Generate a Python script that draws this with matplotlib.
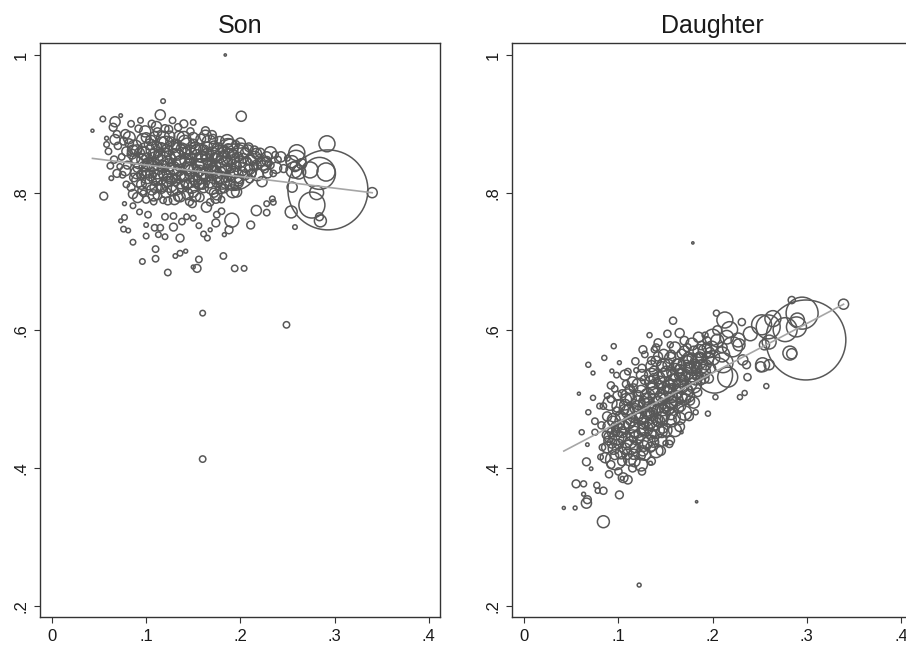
"""
Son / daughter weighted scatter with linear fit, Stata-like look.
"""

import matplotlib
matplotlib.use('Agg')
import matplotlib.pyplot as plt
import numpy as np

plt.rcParams['font.family'] = ['Liberation Sans', 'DejaVu Sans']

# (x, y, weight)
son_core = [
    (0.065, 0.895, 6), (0.078, 0.885, 8), (0.092, 0.893, 5), (0.100, 0.880, 9),
    (0.112, 0.888, 7), (0.124, 0.892, 6), (0.135, 0.882, 10), (0.147, 0.889, 5),
    (0.158, 0.878, 9), (0.170, 0.884, 7), (0.178, 0.875, 8),
    (0.070, 0.868, 5), (0.082, 0.872, 7), (0.090, 0.862, 10), (0.104, 0.870, 12),
    (0.116, 0.866, 8), (0.126, 0.874, 9), (0.138, 0.864, 12), (0.150, 0.871, 8),
    (0.161, 0.862, 10), (0.172, 0.868, 9), (0.183, 0.860, 12), (0.195, 0.870, 6),
    (0.074, 0.852, 4), (0.085, 0.856, 9), (0.096, 0.848, 12), (0.108, 0.857, 10),
    (0.119, 0.850, 14), (0.131, 0.856, 11), (0.142, 0.847, 13), (0.154, 0.855, 10),
    (0.165, 0.849, 12), (0.176, 0.853, 9), (0.186, 0.846, 11), (0.198, 0.852, 8),
    (0.207, 0.846, 6), (0.220, 0.850, 5),
    (0.080, 0.840, 6), (0.091, 0.836, 8), (0.102, 0.842, 13), (0.113, 0.834, 11),
    (0.124, 0.840, 15), (0.135, 0.833, 12), (0.146, 0.840, 14), (0.157, 0.832, 11),
    (0.168, 0.838, 13), (0.179, 0.830, 10), (0.190, 0.836, 9), (0.202, 0.831, 8),
    (0.214, 0.838, 6), (0.226, 0.834, 5),
    (0.075, 0.826, 4), (0.087, 0.822, 7), (0.098, 0.828, 10), (0.109, 0.820, 12),
    (0.120, 0.826, 14), (0.131, 0.818, 11), (0.142, 0.825, 13), (0.153, 0.817, 12),
    (0.164, 0.823, 10), (0.175, 0.815, 9), (0.186, 0.822, 8), (0.198, 0.816, 7),
    (0.210, 0.820, 6),
    (0.084, 0.808, 6), (0.095, 0.812, 9), (0.106, 0.804, 10), (0.117, 0.810, 12),
    (0.128, 0.803, 11), (0.139, 0.809, 12), (0.150, 0.801, 10), (0.161, 0.807, 9),
    (0.172, 0.800, 8), (0.183, 0.806, 7), (0.194, 0.810, 6),
    (0.100, 0.790, 5), (0.112, 0.796, 7), (0.123, 0.788, 6), (0.134, 0.794, 8),
    (0.146, 0.787, 6), (0.157, 0.793, 7), (0.168, 0.786, 5), (0.180, 0.790, 4),
    (0.060, 0.860, 4), (0.066, 0.848, 5), (0.072, 0.838, 3), (0.058, 0.870, 3),
    (0.084, 0.900, 4), (0.094, 0.905, 3), (0.106, 0.900, 5), (0.128, 0.905, 4),
    (0.140, 0.900, 6), (0.150, 0.902, 3),
    (0.215, 0.862, 6), (0.222, 0.845, 7), (0.232, 0.840, 5), (0.240, 0.848, 4),
    (0.246, 0.835, 6), (0.250, 0.850, 3), (0.205, 0.858, 8), (0.212, 0.828, 7),
    (0.120, 0.850, 39), (0.160, 0.835, 39), (0.100, 0.860, 30), (0.145, 0.820, 30),
]

son_dense = [
    (0.088, 0.866, 20), (0.097, 0.876, 18), (0.109, 0.862, 28), (0.121, 0.871, 22),
    (0.133, 0.860, 30), (0.144, 0.868, 24), (0.156, 0.858, 32), (0.167, 0.873, 20),
    (0.178, 0.856, 28), (0.190, 0.852, 26), (0.201, 0.861, 22),
    (0.093, 0.846, 24), (0.104, 0.834, 30), (0.115, 0.843, 26), (0.127, 0.829, 34),
    (0.138, 0.842, 28), (0.150, 0.829, 30), (0.161, 0.846, 26), (0.172, 0.826, 28),
    (0.183, 0.840, 24), (0.195, 0.825, 22), (0.206, 0.840, 20),
    (0.092, 0.818, 18), (0.103, 0.815, 22), (0.114, 0.823, 26), (0.125, 0.812, 24),
    (0.137, 0.818, 28), (0.148, 0.810, 22), (0.159, 0.818, 26), (0.170, 0.808, 20),
    (0.181, 0.815, 18), (0.192, 0.802, 16),
    (0.082, 0.880, 14), (0.099, 0.889, 12), (0.118, 0.880, 16), (0.140, 0.879, 18),
    (0.163, 0.882, 14), (0.186, 0.875, 16),
    (0.215, 0.850, 18), (0.225, 0.842, 16), (0.218, 0.826, 14), (0.238, 0.836, 12),
    (0.243, 0.852, 10), (0.232, 0.858, 14),
    (0.078, 0.832, 10), (0.086, 0.798, 8), (0.108, 0.796, 12), (0.130, 0.790, 10),
    (0.152, 0.795, 12), (0.175, 0.797, 10),
]

son_extra = [
    (0.086, 0.861, 12), (0.098, 0.857, 16), (0.110, 0.849, 20), (0.122, 0.861, 14),
    (0.134, 0.851, 22), (0.146, 0.859, 18), (0.158, 0.846, 20), (0.170, 0.857, 16),
    (0.182, 0.851, 18), (0.194, 0.843, 14),
    (0.090, 0.829, 14), (0.101, 0.823, 18), (0.112, 0.831, 22), (0.123, 0.818, 16),
    (0.135, 0.828, 20), (0.147, 0.834, 18), (0.158, 0.824, 22), (0.169, 0.831, 16),
    (0.180, 0.822, 14), (0.192, 0.830, 12),
    (0.105, 0.876, 10), (0.117, 0.872, 14), (0.129, 0.866, 12), (0.141, 0.874, 16),
    (0.152, 0.865, 12), (0.164, 0.855, 14), (0.176, 0.864, 12), (0.187, 0.857, 10),
    (0.110, 0.808, 12), (0.121, 0.800, 10), (0.133, 0.806, 14), (0.144, 0.798, 12),
    (0.156, 0.812, 10), (0.167, 0.815, 12), (0.179, 0.806, 10), (0.189, 0.812, 8),
    (0.096, 0.803, 8), (0.088, 0.850, 10), (0.079, 0.860, 8), (0.076, 0.875, 6),
    (0.069, 0.885, 5), (0.125, 0.882, 10), (0.150, 0.880, 10), (0.171, 0.878, 8),
    (0.200, 0.845, 12), (0.210, 0.834, 10), (0.221, 0.858, 8), (0.229, 0.828, 8),
]

son_fill = [
    (0.093, 0.858, 9), (0.101, 0.850, 11), (0.107, 0.839, 13), (0.111, 0.868, 9),
    (0.114, 0.855, 12), (0.118, 0.838, 14), (0.122, 0.816, 10), (0.126, 0.848, 12),
    (0.129, 0.836, 15), (0.132, 0.870, 10), (0.136, 0.845, 13), (0.139, 0.824, 12),
    (0.141, 0.857, 11), (0.144, 0.836, 14), (0.148, 0.848, 12), (0.151, 0.820, 13),
    (0.153, 0.862, 10), (0.155, 0.840, 15), (0.159, 0.852, 12), (0.162, 0.828, 13),
    (0.165, 0.866, 10), (0.167, 0.843, 14), (0.171, 0.834, 12), (0.173, 0.850, 11),
    (0.177, 0.821, 12), (0.180, 0.845, 13), (0.184, 0.832, 11), (0.187, 0.864, 9),
    (0.189, 0.825, 10), (0.192, 0.855, 10), (0.196, 0.838, 9), (0.199, 0.820, 8),
    (0.105, 0.825, 11), (0.098, 0.838, 10), (0.095, 0.826, 9), (0.116, 0.806, 9),
    (0.127, 0.820, 11), (0.143, 0.812, 10), (0.160, 0.812, 9), (0.174, 0.838, 10),
    (0.203, 0.850, 9), (0.209, 0.866, 7), (0.217, 0.840, 9), (0.228, 0.846, 8),
    (0.120, 0.893, 6), (0.134, 0.895, 5), (0.163, 0.890, 6), (0.109, 0.882, 8),
]

son_outer = [
    (0.184, 1.000, 0.5), (0.118, 0.933, 2), (0.201, 0.911, 10), (0.043, 0.890, 0.9),
    (0.054, 0.907, 3), (0.073, 0.912, 1.2), (0.067, 0.903, 10), (0.115, 0.913, 10),
    (0.111, 0.896, 10), (0.058, 0.879, 1.5), (0.067, 0.877, 10), (0.055, 0.795, 6),
    (0.062, 0.839, 4), (0.063, 0.821, 2), (0.069, 0.828, 6), (0.079, 0.812, 4),
    (0.077, 0.784, 1.5), (0.086, 0.781, 3), (0.093, 0.772, 3), (0.077, 0.764, 3),
    (0.073, 0.759, 1.5), (0.076, 0.747, 3), (0.081, 0.745, 2), (0.086, 0.728, 3),
    (0.100, 0.737, 3), (0.100, 0.753, 2), (0.102, 0.768, 4), (0.109, 0.749, 4),
    (0.115, 0.749, 4), (0.113, 0.739, 3), (0.120, 0.736, 3), (0.110, 0.718, 4),
    (0.110, 0.704, 4), (0.096, 0.700, 3), (0.123, 0.684, 4), (0.131, 0.708, 2),
    (0.136, 0.712, 3), (0.142, 0.715, 1.5), (0.136, 0.734, 6), (0.129, 0.750, 6),
    (0.120, 0.765, 4), (0.129, 0.766, 4), (0.138, 0.758, 4), (0.143, 0.765, 3),
    (0.150, 0.763, 3), (0.156, 0.752, 3), (0.156, 0.703, 4), (0.154, 0.690, 6),
    (0.150, 0.692, 1.5), (0.161, 0.740, 3), (0.165, 0.734, 3), (0.168, 0.746, 1.5),
    (0.174, 0.756, 6), (0.175, 0.768, 4), (0.180, 0.773, 4), (0.183, 0.739, 1.5),
    (0.182, 0.708, 4), (0.188, 0.746, 6), (0.191, 0.760, 19), (0.194, 0.690, 4),
    (0.204, 0.690, 3), (0.211, 0.753, 6), (0.217, 0.774, 10), (0.228, 0.771, 4),
    (0.235, 0.786, 3), (0.254, 0.772, 14), (0.258, 0.750, 2), (0.160, 0.625, 3),
    (0.249, 0.608, 4), (0.160, 0.413, 4), (0.164, 0.779, 10), (0.136, 0.794, 10),
    (0.118, 0.789, 4), (0.108, 0.787, 4), (0.091, 0.793, 10), (0.097, 0.799, 4),
    (0.149, 0.784, 6), (0.174, 0.792, 10), (0.196, 0.801, 10), (0.196, 0.816, 19),
    (0.223, 0.816, 10), (0.230, 0.843, 4), (0.237, 0.855, 4), (0.228, 0.852, 10),
    (0.217, 0.857, 10), (0.208, 0.862, 10), (0.200, 0.872, 10), (0.189, 0.866, 25),
    (0.235, 0.828, 4), (0.211, 0.847, 10), (0.205, 0.826, 10), (0.258, 0.838, 10),
    (0.262, 0.830, 19), (0.255, 0.845, 14), (0.265, 0.842, 10), (0.260, 0.858, 25),
    (0.193, 0.837, 210), (0.187, 0.864, 39),
    (0.293, 0.804, 625), (0.284, 0.828, 100), (0.292, 0.871, 25), (0.276, 0.782, 66),
    (0.281, 0.800, 19), (0.285, 0.759, 14), (0.284, 0.765, 6), (0.291, 0.830, 32),
    (0.340, 0.800, 10), (0.259, 0.847, 39), (0.257, 0.833, 25), (0.274, 0.833, 25),
    (0.255, 0.808, 10), (0.228, 0.784, 3), (0.234, 0.791, 3),
]

dau_core = [
    (0.083, 0.430, 4), (0.087, 0.448, 6), (0.082, 0.462, 5), (0.088, 0.475, 8), (0.084, 0.490, 4),
    (0.096, 0.418, 6), (0.093, 0.436, 9), (0.097, 0.452, 7), (0.094, 0.468, 10),
    (0.098, 0.483, 6), (0.092, 0.500, 5), (0.096, 0.515, 4),
    (0.104, 0.410, 8), (0.107, 0.428, 12), (0.103, 0.445, 10), (0.106, 0.460, 13),
    (0.102, 0.476, 9), (0.107, 0.492, 11), (0.104, 0.508, 6), (0.108, 0.522, 5),
    (0.116, 0.420, 10), (0.113, 0.437, 13), (0.117, 0.453, 11), (0.114, 0.470, 14),
    (0.118, 0.486, 10), (0.113, 0.500, 12), (0.116, 0.516, 7),
    (0.124, 0.418, 7), (0.127, 0.432, 11), (0.123, 0.449, 14), (0.126, 0.465, 12),
    (0.122, 0.481, 15), (0.127, 0.496, 11), (0.124, 0.512, 12), (0.128, 0.528, 8),
    (0.125, 0.545, 6),
    (0.134, 0.430, 9), (0.137, 0.446, 12), (0.133, 0.462, 10), (0.136, 0.478, 14),
    (0.132, 0.494, 13), (0.137, 0.510, 11), (0.134, 0.525, 13), (0.138, 0.541, 9),
    (0.135, 0.556, 6),
    (0.146, 0.452, 11), (0.143, 0.468, 13), (0.147, 0.484, 12), (0.144, 0.500, 15),
    (0.148, 0.516, 12), (0.143, 0.531, 14), (0.146, 0.547, 10), (0.142, 0.562, 8),
    (0.156, 0.470, 10), (0.153, 0.486, 13), (0.157, 0.503, 12), (0.154, 0.519, 15),
    (0.158, 0.535, 12), (0.153, 0.550, 11), (0.156, 0.565, 7),
    (0.164, 0.487, 9), (0.167, 0.503, 12), (0.163, 0.519, 11), (0.166, 0.535, 14),
    (0.162, 0.551, 10), (0.167, 0.566, 8),
    (0.176, 0.498, 8), (0.173, 0.514, 11), (0.177, 0.530, 13), (0.174, 0.546, 10),
    (0.178, 0.560, 9), (0.173, 0.575, 6),
    (0.184, 0.510, 7), (0.187, 0.528, 10), (0.183, 0.545, 12), (0.186, 0.562, 8),
    (0.188, 0.578, 7),
    (0.196, 0.530, 8), (0.193, 0.550, 10), (0.197, 0.568, 9), (0.194, 0.585, 6),
    (0.075, 0.468, 4), (0.080, 0.490, 3), (0.088, 0.505, 3), (0.092, 0.520, 5),
    (0.098, 0.535, 3), (0.110, 0.540, 4), (0.118, 0.555, 5), (0.128, 0.565, 4),
    (0.140, 0.575, 5), (0.115, 0.400, 6), (0.125, 0.395, 5), (0.135, 0.410, 6),
    (0.145, 0.425, 8), (0.155, 0.440, 7), (0.165, 0.460, 9), (0.175, 0.475, 7),
    (0.100, 0.395, 5), (0.092, 0.405, 6), (0.110, 0.383, 7),
    (0.097, 0.412, 39), (0.134, 0.436, 25), (0.155, 0.474, 39), (0.171, 0.542, 39),
    (0.091, 0.494, 19),
]

dau_dense = [
    (0.098, 0.444, 20), (0.105, 0.468, 26), (0.112, 0.430, 22), (0.118, 0.478, 28),
    (0.120, 0.457, 30), (0.128, 0.440, 24), (0.130, 0.488, 30), (0.132, 0.470, 32),
    (0.140, 0.455, 26), (0.141, 0.503, 30), (0.145, 0.480, 34), (0.150, 0.520, 28),
    (0.152, 0.496, 32), (0.158, 0.510, 30), (0.160, 0.540, 26), (0.163, 0.525, 32),
    (0.170, 0.510, 28), (0.172, 0.552, 24), (0.178, 0.538, 30), (0.180, 0.520, 22),
    (0.185, 0.555, 24), (0.190, 0.540, 20), (0.192, 0.570, 18), (0.200, 0.560, 20),
    (0.110, 0.505, 18), (0.122, 0.520, 20), (0.100, 0.490, 16), (0.135, 0.535, 18),
    (0.148, 0.550, 16), (0.112, 0.412, 14), (0.124, 0.405, 16), (0.140, 0.425, 18),
    (0.160, 0.455, 16), (0.170, 0.480, 20), (0.090, 0.460, 14), (0.088, 0.430, 12),
    (0.095, 0.470, 16), (0.205, 0.585, 16), (0.210, 0.565, 22), (0.215, 0.590, 18),
    (0.178, 0.580, 14), (0.160, 0.575, 12), (0.148, 0.565, 10), (0.135, 0.548, 12),
]

dau_extra = [
    (0.095, 0.428, 12), (0.101, 0.455, 16), (0.108, 0.440, 20), (0.110, 0.482, 16),
    (0.114, 0.462, 22), (0.119, 0.444, 18), (0.121, 0.495, 18), (0.126, 0.475, 22),
    (0.129, 0.457, 20), (0.131, 0.505, 20), (0.133, 0.485, 24), (0.138, 0.465, 18),
    (0.139, 0.518, 22), (0.142, 0.492, 24), (0.146, 0.472, 16), (0.149, 0.535, 18),
    (0.151, 0.508, 24), (0.155, 0.490, 20), (0.158, 0.525, 22), (0.161, 0.500, 18),
    (0.164, 0.548, 20), (0.167, 0.520, 22), (0.169, 0.535, 18), (0.174, 0.505, 16),
    (0.176, 0.555, 18), (0.179, 0.545, 20), (0.182, 0.530, 16), (0.186, 0.570, 16),
    (0.189, 0.548, 18), (0.195, 0.560, 14), (0.199, 0.575, 16), (0.103, 0.422, 14),
    (0.117, 0.410, 12), (0.128, 0.420, 14), (0.145, 0.440, 14), (0.150, 0.455, 16),
    (0.165, 0.472, 14), (0.180, 0.495, 12), (0.108, 0.500, 12), (0.115, 0.525, 10),
    (0.125, 0.535, 12), (0.140, 0.555, 10), (0.155, 0.560, 12), (0.170, 0.570, 10),
    (0.185, 0.590, 10), (0.098, 0.460, 12), (0.090, 0.445, 10), (0.086, 0.415, 10),
    (0.099, 0.505, 8),
]

dau_fill = [
    (0.100, 0.435, 9), (0.104, 0.452, 11), (0.109, 0.420, 10), (0.111, 0.465, 12),
    (0.115, 0.447, 13), (0.118, 0.430, 11), (0.120, 0.490, 12), (0.123, 0.472, 14),
    (0.126, 0.455, 12), (0.129, 0.500, 13), (0.131, 0.480, 15), (0.134, 0.450, 12),
    (0.136, 0.515, 13), (0.139, 0.487, 14), (0.141, 0.470, 12), (0.144, 0.525, 13),
    (0.146, 0.505, 15), (0.149, 0.488, 12), (0.151, 0.540, 12), (0.154, 0.512, 14),
    (0.157, 0.495, 13), (0.159, 0.528, 14), (0.162, 0.510, 12), (0.165, 0.542, 13),
    (0.168, 0.527, 14), (0.171, 0.500, 11), (0.174, 0.560, 11), (0.177, 0.522, 13),
    (0.181, 0.550, 12), (0.184, 0.535, 11), (0.188, 0.560, 10), (0.191, 0.530, 9),
    (0.194, 0.575, 9), (0.198, 0.545, 9), (0.106, 0.485, 9), (0.112, 0.515, 8),
    (0.121, 0.505, 10), (0.138, 0.530, 10), (0.147, 0.458, 10), (0.156, 0.478, 11),
    (0.166, 0.490, 10), (0.126, 0.425, 10), (0.137, 0.438, 11), (0.093, 0.452, 8),
    (0.089, 0.440, 7), (0.180, 0.570, 9), (0.170, 0.585, 7),
]

dau_outer = [
    (0.179, 0.727, 0.5), (0.183, 0.351, 0.5), (0.122, 0.230, 1.5), (0.084, 0.322, 14),
    (0.042, 0.342, 0.9), (0.054, 0.342, 1.5), (0.066, 0.349, 10), (0.067, 0.354, 6),
    (0.055, 0.377, 6), (0.063, 0.377, 3.5), (0.063, 0.362, 1.5), (0.077, 0.375, 3.5),
    (0.078, 0.367, 2.5), (0.084, 0.367, 5), (0.101, 0.361, 6), (0.105, 0.386, 9),
    (0.104, 0.385, 1.5), (0.090, 0.391, 5), (0.081, 0.416, 3), (0.071, 0.399, 1.2),
    (0.066, 0.409, 6), (0.067, 0.434, 1.2), (0.061, 0.452, 2.5), (0.075, 0.452, 3.5),
    (0.068, 0.481, 2.5), (0.058, 0.508, 0.9), (0.073, 0.502, 2.5), (0.068, 0.550, 2.5),
    (0.073, 0.538, 1.5), (0.085, 0.560, 2.5), (0.095, 0.577, 2.5), (0.101, 0.553, 1.5),
    (0.093, 0.541, 1.5), (0.133, 0.593, 2.5), (0.142, 0.582, 6), (0.152, 0.595, 5),
    (0.158, 0.614, 5), (0.165, 0.596, 8), (0.155, 0.579, 3.5), (0.126, 0.572, 6),
    (0.138, 0.572, 3.5), (0.119, 0.542, 2.5), (0.107, 0.535, 10), (0.134, 0.407, 1.5),
    (0.167, 0.452, 0.9), (0.154, 0.435, 5), (0.150, 0.436, 2.5), (0.195, 0.479, 2.5),
    (0.203, 0.503, 2.5), (0.229, 0.503, 2.5), (0.234, 0.509, 2.5), (0.237, 0.532, 5),
    (0.236, 0.550, 6), (0.257, 0.519, 2.5), (0.182, 0.481, 2.5), (0.251, 0.547, 10),
    (0.260, 0.550, 10), (0.253, 0.550, 19), (0.284, 0.566, 10), (0.282, 0.567, 19),
    (0.299, 0.586, 625), (0.339, 0.638, 10), (0.284, 0.644, 5), (0.295, 0.625, 100),
    (0.289, 0.605, 39), (0.277, 0.601, 56), (0.259, 0.605, 56), (0.252, 0.608, 39),
    (0.260, 0.583, 19), (0.213, 0.615, 25), (0.204, 0.625, 3.5), (0.231, 0.612, 5),
    (0.227, 0.586, 19), (0.221, 0.576, 39), (0.200, 0.590, 25), (0.192, 0.593, 3.5),
    (0.202, 0.535, 127), (0.211, 0.553, 39), (0.216, 0.532, 39), (0.218, 0.601, 25),
    (0.264, 0.617, 25), (0.290, 0.615, 19), (0.255, 0.579, 10), (0.232, 0.557, 10),
    (0.228, 0.579, 14), (0.210, 0.575, 10), (0.205, 0.600, 8), (0.240, 0.595, 19),
]

# linear fit: (intercept, slope)
son_fit = (0.857, -0.168)
dau_fit = (0.3945, 0.718)

TITLES = ["Son", "Daughter"]
XTICKS = [0, 0.1, 0.2, 0.3, 0.4]
XTICKLABELS = ["0", ".1", ".2", ".3", ".4"]
YTICKS = [0.2, 0.4, 0.6, 0.8, 1.0]
YTICKLABELS = [".2", ".4", ".6", ".8", "1"]

MARK = '#585858'
FIT = '#a6a6a6'
TXT = '#1a1a1a'
SIZE_SCALE = 5.3


def draw_panel(ax, pts, fit, title):
    arr = np.array(pts, dtype=float)
    x, y, w = arr[:, 0], arr[:, 1], arr[:, 2]
    order = np.argsort(-w)
    ax.scatter(x[order], y[order], s=w[order] * SIZE_SCALE, facecolors='none',
               edgecolors=MARK, linewidths=1.1, zorder=2, clip_on=False)
    xs = np.array([x.min(), x.max()])
    ax.plot(xs, fit[0] + fit[1] * xs, color=FIT, linewidth=1.2, zorder=3)
    ax.set_xlim(-0.0127, 0.412)
    ax.set_ylim(0.1836, 1.0174)
    ax.set_xticks(XTICKS)
    ax.set_xticklabels(XTICKLABELS, fontsize=12, color=TXT)
    ax.set_yticks(YTICKS)
    ax.set_yticklabels(YTICKLABELS, fontsize=12, color=TXT, rotation=90, va='center')
    ax.tick_params(axis='both', direction='out', length=4.3, width=0.8,
                   color='#333333', pad=4)
    for sp in ax.spines.values():
        sp.set_linewidth(1.0)
        sp.set_color('#333333')
    ax.set_title(title, fontsize=18, color=TXT, pad=7)


fig = plt.figure(figsize=(9.06, 6.47), dpi=100)
ax_s = fig.add_axes([40 / 906, 1 - 617 / 647, 400 / 906, 574 / 647])
ax_d = fig.add_axes([512.3 / 906, 1 - 617 / 647, 400 / 906, 574 / 647])

draw_panel(ax_s, son_core + son_dense + son_extra + son_fill + son_outer,
           son_fit, TITLES[0])
draw_panel(ax_d, dau_core + dau_dense + dau_extra + dau_fill + dau_outer,
           dau_fit, TITLES[1])

fig.savefig("out.png", dpi=100)
print("saved out.png")
